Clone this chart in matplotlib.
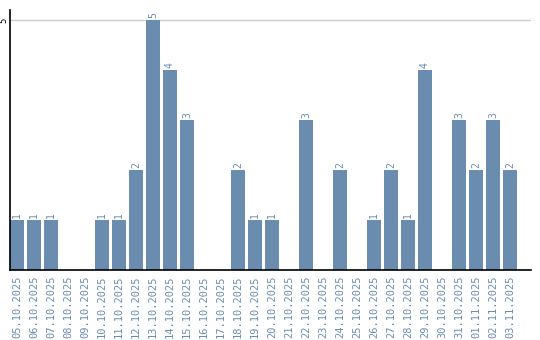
import matplotlib.pyplot as plt
import numpy as np

dates = ["05.10.2025", "06.10.2025", "07.10.2025", "08.10.2025", "09.10.2025",
         "10.10.2025", "11.10.2025", "12.10.2025", "13.10.2025", "14.10.2025",
         "15.10.2025", "16.10.2025", "17.10.2025", "18.10.2025", "19.10.2025",
         "20.10.2025", "21.10.2025", "22.10.2025", "23.10.2025", "24.10.2025",
         "25.10.2025", "26.10.2025", "27.10.2025", "28.10.2025", "29.10.2025",
         "30.10.2025", "31.10.2025", "01.11.2025", "02.11.2025", "03.11.2025"]
counts = [1, 1, 1, 0, 0, 1, 1, 2, 5, 4, 3, 0, 0, 2, 1, 1, 0, 3, 0, 2,
          0, 1, 2, 1, 4, 0, 3, 2, 3, 2]

color = "#6a8caf"
x = np.arange(len(dates))

fig = plt.figure(figsize=(5.4, 3.4), dpi=100)
ax = fig.add_axes([10 / 540, 70 / 340, 521 / 540, 260 / 340])

ax.bar(x, counts, width=0.82, color=color, zorder=2)
for i, c in enumerate(counts):
    if c > 0:
        ax.text(i, c + 0.04, str(c), rotation=90, ha="center", va="bottom",
                color=color, fontsize=7, family="DejaVu Sans Mono")

ax.set_xlim(-0.41, 30.24)
ax.set_ylim(0, 5.2)
ax.set_yticks([5])
ax.set_yticklabels(["5"], rotation=90, va="center", fontsize=6.5,
                   family="DejaVu Sans Mono")
ax.tick_params(axis="y", length=0, pad=1)
ax.set_xticks(x)
ax.set_xticklabels(dates, rotation=90, color=color, fontsize=7.5,
                   family="DejaVu Sans Mono")
ax.tick_params(axis="x", length=0, pad=4)
ax.grid(axis="y", color="#cccccc", linewidth=1, zorder=0)

for side in ["top", "right"]:
    ax.spines[side].set_visible(False)
ax.spines["left"].set_linewidth(1.2)
ax.spines["bottom"].set_linewidth(1.2)

fig.savefig("out.png", dpi=100)
